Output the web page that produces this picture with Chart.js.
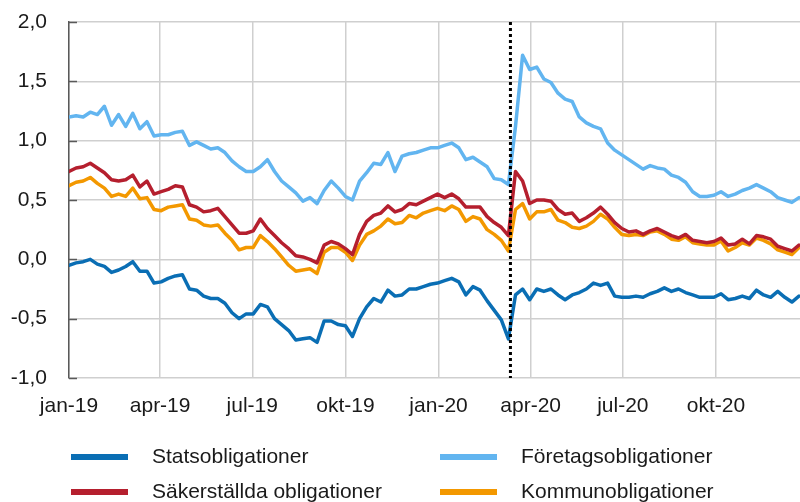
<!DOCTYPE html>
<html>
<head>
<meta charset="utf-8">
<script src="https://cdn.jsdelivr.net/npm/chart.js"></script>
<style>
  html, body { margin: 0; padding: 0; background: #fff; }
  #wrap { position: relative; width: 800px; height: 502px; overflow: hidden; }
  .leg { position: absolute; font: 21px "Liberation Sans", Arial, sans-serif; color: #1a1a1a; white-space: nowrap; }
  .sw { position: absolute; width: 57px; height: 6px; }
</style>
</head>
<body>
<div id="wrap">
  <canvas id="chart" width="800" height="502"></canvas>
</div>
<script>
// --------- Data (weekly readings, day 0 = 2019-01-01) ---------
const stepDays = 7;
const tickDays = [0, 90, 181, 273, 365, 456, 547, 639];
const tickLabels = ["jan-19", "apr-19", "jul-19", "okt-19", "jan-20", "apr-20", "jul-20", "okt-20"];
const markerDay = 436;

const seriesNames = ["Statsobligationer", "Företagsobligationer", "Säkerställda obligationer", "Kommunobligationer"];
const seriesColors = ["#0A6EB4", "#62B5F0", "#B51F2E", "#F39800"];

const stats = [
  -0.05, -0.03, -0.02, 0.00, -0.04, -0.06, -0.11, -0.09, -0.06, -0.02,
  -0.10, -0.10, -0.20, -0.19, -0.16, -0.14, -0.13, -0.25, -0.26, -0.31,
  -0.33, -0.33, -0.37, -0.45, -0.50, -0.46, -0.46, -0.38, -0.40, -0.50,
  -0.55, -0.60, -0.68, -0.67, -0.66, -0.70, -0.52, -0.52, -0.55, -0.56,
  -0.65, -0.50, -0.40, -0.33, -0.36, -0.26, -0.31, -0.30, -0.25, -0.25,
  -0.23, -0.21, -0.20, -0.18, -0.16, -0.19, -0.30, -0.23, -0.26, -0.35,
  -0.43, -0.51, -0.67, -0.30, -0.25, -0.34, -0.25, -0.27, -0.25, -0.30,
  -0.34, -0.30, -0.28, -0.25, -0.20, -0.22, -0.20, -0.31, -0.32, -0.32,
  -0.31, -0.32, -0.29, -0.27, -0.24, -0.27, -0.25, -0.28, -0.30, -0.32,
  -0.32, -0.32, -0.29, -0.34, -0.33, -0.31, -0.33, -0.26, -0.30, -0.32,
  -0.27, -0.32, -0.36, -0.31
];
const foretag = [
  1.20, 1.21, 1.20, 1.24, 1.22, 1.29, 1.13, 1.22, 1.12, 1.23,
  1.10, 1.16, 1.04, 1.05, 1.05, 1.07, 1.08, 0.96, 0.99, 0.96,
  0.93, 0.94, 0.90, 0.83, 0.78, 0.74, 0.74, 0.78, 0.84, 0.74,
  0.66, 0.61, 0.56, 0.49, 0.52, 0.47, 0.58, 0.66, 0.60, 0.53,
  0.50, 0.66, 0.73, 0.81, 0.80, 0.90, 0.74, 0.87, 0.89, 0.90,
  0.92, 0.94, 0.94, 0.96, 0.98, 0.94, 0.84, 0.86, 0.82, 0.78,
  0.68, 0.67, 0.63, 1.12, 1.72, 1.60, 1.62, 1.52, 1.49, 1.40,
  1.35, 1.33, 1.20, 1.15, 1.12, 1.10, 0.98, 0.92, 0.88, 0.84,
  0.80, 0.76, 0.79, 0.77, 0.76, 0.71, 0.69, 0.65, 0.57, 0.53,
  0.53, 0.54, 0.57, 0.53, 0.55, 0.58, 0.60, 0.63, 0.60, 0.57,
  0.52, 0.50, 0.48, 0.52
];
const sakerstallda = [
  0.74, 0.77, 0.78, 0.81, 0.77, 0.73, 0.67, 0.66, 0.67, 0.71,
  0.61, 0.66, 0.55, 0.57, 0.59, 0.62, 0.61, 0.46, 0.44, 0.40,
  0.41, 0.43, 0.36, 0.29, 0.22, 0.22, 0.24, 0.34, 0.26, 0.20,
  0.14, 0.09, 0.03, 0.02, 0.00, -0.03, 0.12, 0.15, 0.13, 0.09,
  0.04, 0.21, 0.32, 0.37, 0.39, 0.45, 0.40, 0.42, 0.47, 0.46,
  0.49, 0.52, 0.55, 0.52, 0.55, 0.51, 0.44, 0.44, 0.44, 0.36,
  0.31, 0.27, 0.20, 0.74, 0.66, 0.47, 0.50, 0.50, 0.49, 0.42,
  0.38, 0.39, 0.32, 0.35, 0.39, 0.44, 0.38, 0.31, 0.26, 0.23,
  0.24, 0.21, 0.24, 0.26, 0.23, 0.20, 0.18, 0.21, 0.16, 0.15,
  0.14, 0.15, 0.18, 0.12, 0.13, 0.17, 0.13, 0.20, 0.19, 0.17,
  0.11, 0.09, 0.07, 0.12
];
const kommun = [
  0.62, 0.65, 0.66, 0.69, 0.64, 0.60, 0.53, 0.55, 0.53, 0.60,
  0.51, 0.52, 0.42, 0.41, 0.44, 0.45, 0.46, 0.34, 0.33, 0.29,
  0.28, 0.29, 0.22, 0.16, 0.08, 0.10, 0.10, 0.20, 0.15, 0.09,
  0.02, -0.05, -0.10, -0.09, -0.08, -0.12, 0.06, 0.10, 0.10, 0.06,
  -0.01, 0.12, 0.21, 0.24, 0.28, 0.34, 0.30, 0.31, 0.37, 0.35,
  0.39, 0.41, 0.43, 0.41, 0.45, 0.42, 0.32, 0.36, 0.34, 0.25,
  0.21, 0.16, 0.07, 0.42, 0.47, 0.34, 0.40, 0.40, 0.42, 0.33,
  0.31, 0.27, 0.26, 0.28, 0.32, 0.38, 0.34, 0.27, 0.21, 0.20,
  0.21, 0.20, 0.23, 0.24, 0.21, 0.17, 0.16, 0.19, 0.14, 0.13,
  0.12, 0.12, 0.155, 0.07, 0.10, 0.14, 0.12, 0.18, 0.16, 0.13,
  0.08, 0.06, 0.04, 0.10
];

// --------- Legend (HTML) ---------
const wrap = document.getElementById("wrap");
const legendPos = [
  { x: 71, y: 457 }, { x: 440, y: 457 },
  { x: 71, y: 492 }, { x: 440, y: 492 }
];
seriesNames.forEach((name, i) => {
  const p = legendPos[i];
  const sw = document.createElement("div");
  sw.className = "sw";
  sw.style.left = p.x + "px";
  sw.style.top = (p.y - 3) + "px";
  sw.style.background = seriesColors[i];
  wrap.appendChild(sw);
  const t = document.createElement("div");
  t.className = "leg";
  t.textContent = name;
  t.style.left = (p.x + 81) + "px";
  t.style.top = (p.y - 13) + "px";
  wrap.appendChild(t);
});

// --------- Chart ---------
const toPoints = arr => arr.map((v, i) => ({ x: i * stepDays, y: v }));

const extras = {
  id: "extras",
  afterDatasetsDraw(chart) {
    const { ctx, chartArea, scales } = chart;
    // short inward tick marks on the y axis
    ctx.save();
    ctx.strokeStyle = "#595959";
    ctx.lineWidth = 1.5;
    scales.y.ticks.forEach(t => {
      const y = Math.round(scales.y.getPixelForValue(t.value)) + 0.5;
      ctx.beginPath();
      ctx.moveTo(chartArea.left, y);
      ctx.lineTo(chartArea.left + 8, y);
      ctx.stroke();
    });
    // dotted marker line
    const x = scales.x.getPixelForValue(markerDay);
    ctx.strokeStyle = "#000";
    ctx.lineWidth = 3;
    ctx.setLineDash([3, 3]);
    ctx.beginPath();
    ctx.moveTo(x, chartArea.top);
    ctx.lineTo(x, chartArea.bottom);
    ctx.stroke();
    ctx.restore();
  }
};

const fontFamily = '"Liberation Sans", Arial, sans-serif';

new Chart(document.getElementById("chart"), {
  type: "line",
  data: {
    datasets: [
      { label: seriesNames[0], data: toPoints(stats), borderColor: seriesColors[0], order: 1 },
      { label: seriesNames[1], data: toPoints(foretag), borderColor: seriesColors[1], order: 2 },
      { label: seriesNames[2], data: toPoints(sakerstallda), borderColor: seriesColors[2], order: 3 },
      { label: seriesNames[3], data: toPoints(kommun), borderColor: seriesColors[3], order: 4 }
    ]
  },
  options: {
    responsive: false,
    animation: false,
    parsing: false,
    elements: {
      line: { borderWidth: 3.5, tension: 0, borderJoinStyle: "round", borderCapStyle: "round" },
      point: { radius: 0 }
    },
    layout: { padding: { top: 22, right: 0, bottom: 0, left: 0 } },
    plugins: { legend: { display: false }, tooltip: { enabled: false } },
    scales: {
      x: {
        type: "linear",
        min: 0,
        max: 722,
        afterFit(scale) { scale.height = 124; scale.paddingLeft = 0; scale.paddingRight = 0; },
        afterBuildTicks(scale) { scale.ticks = tickDays.map(v => ({ value: v })); },
        ticks: {
          autoSkip: false,
          maxRotation: 0,
          padding: 16,
          color: "#1a1a1a",
          font: { family: fontFamily, size: 21 },
          callback: (value) => tickLabels[tickDays.indexOf(value)]
        },
        grid: { color: "#cfcfcf", lineWidth: 1.5, drawTicks: false },
        border: { display: false }
      },
      y: {
        min: -1,
        max: 2,
        afterFit(scale) { scale.width = 69; scale.paddingTop = 0; scale.paddingBottom = 0; },
        ticks: {
          stepSize: 0.5,
          padding: 22,
          color: "#1a1a1a",
          font: { family: fontFamily, size: 21 },
          callback: v => v.toFixed(1).replace(".", ",")
        },
        grid: { color: "#cfcfcf", lineWidth: 1.5, drawTicks: false },
        border: { display: true, color: "#595959", width: 1.5 }
      }
    }
  },
  plugins: [extras]
});
</script>
</body>
</html>
